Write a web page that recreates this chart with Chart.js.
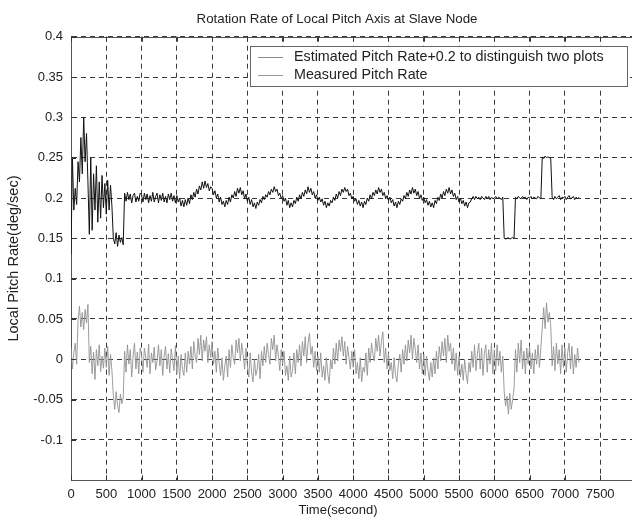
<!DOCTYPE html>
<html><head><meta charset="utf-8">
<script src="https://cdn.jsdelivr.net/npm/chart.js@4/dist/chart.umd.min.js"></script>
<style>
html,body{margin:0;padding:0;background:#fff;overflow:hidden;width:632px;height:521px}
#wrap{position:relative;width:640px;height:521px}
</style>
</head><body>
<div id="wrap"><canvas id="c" width="640" height="521"></canvas></div>
<script>
// ---- data ----
const sampleStart = 0;      // seconds
const sampleStep = 20;      // seconds between samples
const pitchOffset = 0.2;    // added to the estimated rate "to distinguish two plots"

// Estimated pitch rate (deg/sec), before the +0.2 offset; one row per 500 s
const estimatedRate = [
  -0.07, 0.05, -0.015, 0.012, -0.008, 0.045, 0.02, 0.075, 0.03, 0.1, 0.045, 0.08, 0.02, -0.045, 0.05, -0.04, 0.03, -0.015, 0.04, -0.03, 0.02, -0.025, 0.028, -0.012, 0.018,
  -0.02, 0.022, -0.015, 0.016, -0.01, -0.05, -0.057, -0.043, -0.06, -0.046, -0.055, -0.049, -0.058, 0.006, -0.004, 0.007, -0.002, 0.005, -0.006, 0.003, 0.006, -0.005, 0.002, -0.004, 0.006,
  0.004, -0.005, 0.006, -0.002, 0.005, -0.006, 0.003, -0.004, 0.007, -0.005, 0.002, 0.006, -0.006, 0.004, -0.003, 0.006, -0.005, 0.002, -0.006, 0.005, -0.002, 0.006, -0.004, 0.003, -0.006,
  0.003, -0.005, 0.0, -0.01, -0.003, -0.011, -0.002, -0.009, 0.0, -0.007, 0.004, -0.002, 0.007, 0.001, 0.011, 0.005, 0.015, 0.01, 0.02, 0.012, 0.021, 0.013, 0.018, 0.009, 0.014,
  0.012, 0.004, 0.009, 0.0, 0.005, -0.005, 0.001, -0.008, -0.004, -0.011, -0.003, -0.008, 0.001, -0.005, 0.004, 0.0, 0.008, 0.002, 0.012, 0.006, 0.013, 0.004, 0.009, -0.001, 0.005,
  -0.004, 0.001, -0.008, -0.002, -0.011, -0.006, -0.013, -0.005, -0.009, -0.002, -0.006, 0.002, -0.002, 0.004, 0.001, 0.008, 0.004, 0.011, 0.007, 0.014, 0.008, 0.011, 0.003, 0.006, -0.001,
  0.003, -0.004, 0.0, -0.009, -0.003, -0.012, -0.006, -0.011, -0.003, -0.007, 0.001, -0.004, 0.004, -0.001, 0.007, 0.002, 0.01, 0.005, 0.014, 0.007, 0.012, 0.004, 0.008, 0.0, 0.004,
  -0.003, 0.001, -0.005, -0.001, -0.009, -0.004, -0.012, -0.006, -0.01, -0.003, -0.006, 0.001, -0.003, 0.005, 0.0, 0.008, 0.003, 0.011, 0.007, 0.013, 0.008, 0.011, 0.003, 0.006, -0.001,
  0.002, -0.004, -0.001, -0.008, -0.003, -0.01, -0.005, -0.012, -0.004, -0.008, 0.0, -0.004, 0.004, -0.001, 0.007, 0.003, 0.01, 0.005, 0.013, 0.007, 0.011, 0.003, 0.007, -0.001, 0.003,
  -0.003, 0.001, -0.006, -0.002, -0.01, -0.005, -0.012, -0.004, -0.008, -0.001, -0.004, 0.003, -0.001, 0.007, 0.002, 0.01, 0.005, 0.013, 0.006, 0.011, 0.003, 0.008, -0.001, 0.004, -0.003,
  0.001, -0.006, -0.002, -0.009, -0.004, -0.011, -0.006, -0.012, -0.003, -0.007, 0.001, -0.003, 0.005, 0.0, 0.008, 0.003, 0.011, 0.006, 0.013, 0.005, 0.01, 0.002, 0.006, -0.002, 0.002,
  -0.005, 0.0, -0.007, -0.003, -0.01, -0.005, -0.012, -0.006, -0.005, -0.001, 0.002, -0.002, 0.002, -0.001, 0.001, -0.002, 0.002, 0.0, -0.002, 0.002, -0.001, 0.002, -0.002, 0.001, -0.001,
  0.0, 0.002, -0.001, 0.001, 0.0, -0.002, 0.001, -0.049, -0.051, -0.05, -0.049, -0.051, -0.05, -0.049, -0.05, 0.001, -0.001, 0.002, 0.0, -0.001, 0.002, 0.0, 0.001, -0.002, 0.001,
  0.0, 0.002, -0.001, 0.001, 0.0, -0.001, 0.002, 0.0, -0.001, 0.051, 0.049, 0.052, 0.05, 0.051, 0.05, 0.049, 0.001, -0.002, 0.002, -0.001, 0.001, 0.003, -0.002, 0.001, 0.0,
  0.002, -0.002, 0.001, 0.003, -0.001, 0.0, 0.002, -0.002, 0.001, -0.001, 0.001
];

// Measured pitch rate (deg/sec); one row per 500 s
const measuredRate = [
  0.015, -0.012, 0.008, 0.02, -0.006, 0.048, 0.066, 0.04, 0.058, 0.037, 0.062, 0.045, 0.068, -0.004, 0.016, -0.018, 0.009, -0.025, 0.012, -0.008, 0.018, -0.015, 0.004, -0.011, 0.014,
  -0.01, 0.016, -0.02, 0.006, -0.014, -0.045, -0.062, -0.04, -0.057, -0.066, -0.043, -0.055, -0.048, 0.01, -0.016, 0.018, -0.006, 0.012, -0.022, 0.004, 0.02, -0.012, 0.009, -0.018, 0.014,
  0.006, -0.016, 0.014, 0.002, -0.01, 0.019, -0.018, 0.008, -0.004, 0.015, -0.013, -0.002, 0.018, -0.008, 0.012, -0.02, 0.004, 0.016, -0.012, 0.007, -0.017, 0.013, 0.0, -0.014, 0.017,
  -0.018, 0.004, -0.024, 0.006, -0.012, -0.02, 0.008, -0.016, 0.01, -0.006, 0.016, -0.012, 0.022, 0.004, -0.004, 0.026, 0.006, 0.03, -0.002, 0.024, 0.01, 0.028, -0.004, 0.018, 0.002,
  0.022, -0.006, 0.01, -0.016, 0.014, -0.004, -0.02, 0.002, -0.026, -0.008, 0.004, -0.022, 0.012, -0.01, 0.018, 0.002, -0.006, 0.024, 0.008, 0.026, -0.002, 0.02, 0.006, -0.012, 0.014,
  -0.008, -0.022, 0.008, -0.016, -0.028, 0.0, -0.02, -0.012, 0.006, -0.024, 0.01, -0.008, 0.016, -0.004, 0.02, 0.006, -0.006, 0.026, 0.012, 0.03, -0.002, 0.018, 0.004, -0.014, 0.012,
  -0.006, 0.01, -0.02, -0.008, -0.026, 0.004, -0.022, -0.014, 0.008, -0.018, 0.012, -0.004, 0.018, -0.008, 0.022, 0.004, 0.028, -0.004, 0.02, 0.032, 0.006, 0.016, -0.01, 0.01, -0.014,
  0.004, -0.016, 0.008, -0.022, -0.008, -0.026, 0.002, -0.018, -0.03, 0.0, -0.012, 0.014, -0.006, 0.02, -0.002, 0.024, 0.01, 0.028, 0.004, 0.022, -0.006, 0.016, 0.002, -0.012, 0.01,
  -0.01, 0.012, -0.018, -0.004, -0.024, 0.002, -0.028, -0.01, -0.016, 0.008, -0.02, 0.014, -0.004, 0.02, 0.006, -0.002, 0.026, 0.01, 0.03, 0.004, 0.022, 0.034, -0.004, 0.014, -0.012,
  0.008, -0.014, -0.004, -0.024, 0.002, -0.02, -0.028, -0.006, 0.006, -0.016, 0.012, -0.006, 0.018, -0.002, 0.024, 0.008, 0.03, 0.0, 0.026, 0.012, -0.004, 0.018, -0.012, 0.008, -0.018,
  0.006, -0.02, 0.004, -0.014, -0.026, -0.004, -0.022, 0.002, -0.018, 0.01, -0.012, 0.016, -0.002, 0.022, 0.004, 0.026, -0.004, 0.03, 0.01, 0.02, -0.006, 0.014, -0.014, 0.008, -0.02,
  0.004, -0.022, -0.006, -0.026, 0.0, -0.018, -0.03, -0.004, -0.016, 0.01, -0.01, 0.018, -0.014, 0.006, 0.02, -0.012, 0.014, -0.02, 0.008, 0.018, -0.016, 0.012, -0.006, 0.02, -0.018,
  0.012, -0.014, 0.018, -0.008, 0.01, -0.016, 0.004, -0.04, -0.058, -0.046, -0.068, -0.042, -0.062, -0.05, -0.036, 0.012, -0.016, 0.02, -0.004, 0.024, -0.012, 0.01, -0.018, 0.014, -0.006,
  0.016, -0.012, 0.008, -0.018, 0.012, -0.006, 0.018, -0.01, 0.014, 0.04, 0.064, 0.038, 0.07, 0.046, 0.058, 0.042, -0.008, 0.016, -0.014, 0.02, -0.006, 0.012, -0.018, 0.018, -0.01,
  0.014, -0.016, 0.008, 0.02, -0.012, 0.016, -0.018, 0.006, -0.01, 0.014, -0.004
];

const xTickValues = [0, 500, 1000, 1500, 2000, 2500, 3000, 3500, 4000, 4500, 5000, 5500, 6000, 6500, 7000, 7500];
const yTickValues = [-0.1, -0.05, 0, 0.05, 0.1, 0.15, 0.2, 0.25, 0.3, 0.35, 0.4];
const yTickLabels = ['-0.1', '-0.05', '0', '0.05', '0.1', '0.15', '0.2', '0.25', '0.3', '0.35', '0.4'];

const chartTitle = 'Rotation Rate of Local Pitch Axis at Slave Node';
const xAxisLabel = 'Time(second)';
const yAxisLabel = 'Local Pitch Rate(deg/sec)';
const seriesNames = ['Estimated Pitch Rate+0.2 to distinguish two plots', 'Measured Pitch Rate'];

// ---- build ----
const FONT = '"Liberation Sans", Arial, Helvetica, sans-serif';
const toPoints = (arr, off) => arr.map((v, i) => ({ x: sampleStart + i * sampleStep, y: v + off }));

const decor = {
  id: 'decor',
  afterDraw(chart) {
    const ctx = chart.ctx, a = chart.chartArea;
    const xs = chart.scales.x, ys = chart.scales.y;
    ctx.save();
    ctx.strokeStyle = '#555'; ctx.lineWidth = 1; ctx.setLineDash([]);
    ctx.beginPath(); ctx.moveTo(a.left, Math.round(a.top) + 0.5); ctx.lineTo(a.right, Math.round(a.top) + 0.5); ctx.stroke();
    ctx.strokeStyle = '#333';
    xTickValues.forEach(v => {
      const px = Math.round(xs.getPixelForValue(v)) + 0.5;
      ctx.beginPath(); ctx.moveTo(px, a.bottom); ctx.lineTo(px, a.bottom - 5);
      ctx.moveTo(px, a.top); ctx.lineTo(px, a.top + 5); ctx.stroke();
    });
    yTickValues.forEach(v => {
      const py = Math.round(ys.getPixelForValue(v)) + 0.5;
      ctx.beginPath(); ctx.moveTo(a.left, py); ctx.lineTo(a.left + 5, py); ctx.stroke();
    });
    ctx.fillStyle = '#222'; ctx.textAlign = 'center'; ctx.textBaseline = 'middle';
    ctx.font = '13.3px ' + FONT;
    ctx.fillText(chartTitle, 337, 19);
    ctx.font = '13px ' + FONT;
    ctx.fillText(xAxisLabel, 338, 510);
    const lx = 250.5, ly = 46.5, lw = 377, lh = 40;
    ctx.fillStyle = '#fff'; ctx.fillRect(lx, ly, lw, lh);
    ctx.strokeStyle = '#666'; ctx.strokeRect(lx, ly, lw, lh);
    const rows = [57, 75], sampleCols = ['#8a8a8a', '#9a9a9a'];
    ctx.font = '14.3px ' + FONT; ctx.textAlign = 'left';
    rows.forEach((ry, i) => {
      ctx.strokeStyle = sampleCols[i];
      ctx.beginPath(); ctx.moveTo(258, ry + 0.5); ctx.lineTo(283, ry + 0.5); ctx.stroke();
      ctx.fillStyle = '#222'; ctx.fillText(seriesNames[i], 294, ry);
    });
    ctx.restore();
  }
};

new Chart(document.getElementById('c'), {
  type: 'line',
  data: {
    datasets: [
      { label: seriesNames[1], data: toPoints(measuredRate, 0), borderColor: '#929292', borderWidth: 0.9, pointRadius: 0, tension: 0 },
      { label: seriesNames[0], data: toPoints(estimatedRate, pitchOffset), borderColor: '#111', borderWidth: 1, pointRadius: 0, tension: 0 }
    ]
  },
  options: {
    responsive: false, animation: false, devicePixelRatio: 1,
    parsing: false, normalized: true,
    layout: { padding: { left: 0, right: 4.6, top: 36.7, bottom: 0 } },
    plugins: { legend: { display: false }, title: { display: false }, tooltip: { enabled: false } },
    scales: {
      x: {
        type: 'linear', min: 0, max: 8000,
        afterBuildTicks: s => { s.ticks = xTickValues.map(v => ({ value: v })); },
        afterFit: s => { s.height = 40.7; },
        ticks: { autoSkip: false, maxRotation: 0, padding: 6, color: '#222', font: { family: FONT, size: 13 },
                 callback: v => String(v) },
        grid: { color: '#3a3a3a', lineWidth: 1, drawTicks: false },
        border: { display: true, color: '#555', width: 1, dash: [5, 4] }
      },
      y: {
        min: -0.15, max: 0.4,
        afterBuildTicks: s => { s.ticks = yTickValues.map(v => ({ value: v })); },
        afterFit: s => { s.width = 71; },
        ticks: { autoSkip: false, padding: 8, color: '#222', font: { family: FONT, size: 13 },
                 callback: (v, i) => yTickLabels[i] },
        title: { display: true, text: yAxisLabel, color: '#222', font: { family: FONT, size: 14.5 }, padding: { top: 5, bottom: 0 } },
        grid: { color: '#3a3a3a', lineWidth: 1, drawTicks: false },
        border: { display: true, color: '#555', width: 1, dash: [5, 4] }
      }
    }
  },
  plugins: [decor]
});
</script>
</body></html>
